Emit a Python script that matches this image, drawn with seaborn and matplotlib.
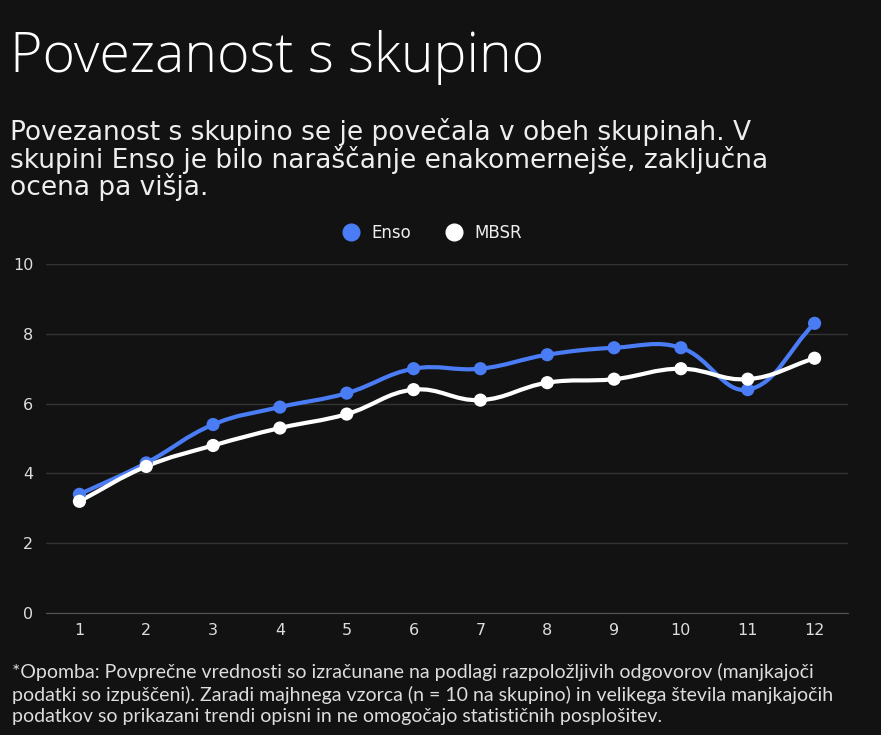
import numpy as np
import pandas as pd
import seaborn as sns
import matplotlib.pyplot as plt
from matplotlib.path import Path
from matplotlib.patches import PathPatch
from matplotlib.lines import Line2D

weeks = list(range(1, 13))
enso = [3.4, 4.3, 5.4, 5.9, 6.3, 7.0, 7.0, 7.4, 7.6, 7.6, 6.4, 8.3]
mbsr = [3.2, 4.2, 4.8, 5.3, 5.7, 6.4, 6.1, 6.6, 6.7, 7.0, 6.7, 7.3]

df = pd.DataFrame({"teden": weeks * 2,
                   "ocena": enso + mbsr,
                   "skupina": ["Enso"] * 12 + ["MBSR"] * 12})

BG = "#121212"
BLUE = "#4a7df5"
WHITE = "#ffffff"
palette = {"Enso": BLUE, "MBSR": WHITE}

sns.set_style("dark")
plt.rcParams["font.family"] = ["DejaVu Sans"]

fig = plt.figure(figsize=(8.81, 7.35), dpi=100, facecolor=BG)
ax = fig.add_axes([46 / 881, 1 - 613 / 735, (848 - 46) / 881, (613 - 264) / 735])
ax.set_facecolor(BG)

ax.set_xlim(0.5, 12.5)
ax.set_ylim(0, 10)


def smooth_path(xs, ys, t=0.4):
    # chart.js style bezier, distances in pixel-ish units
    sx, sy = 66.8, 34.9
    pts = np.column_stack([np.asarray(xs, float), np.asarray(ys, float)])
    n = len(pts)
    cps = []
    for i in range(n):
        prev = pts[i - 1] if i > 0 else pts[i]
        nxt = pts[i + 1] if i < n - 1 else pts[i]
        cur = pts[i]
        scale = np.array([sx, sy])
        d01 = np.linalg.norm((cur - prev) * scale)
        d12 = np.linalg.norm((nxt - cur) * scale)
        tot = d01 + d12
        s01 = d01 / tot if tot else 0
        s12 = d12 / tot if tot else 0
        cps.append((cur - t * s01 * (nxt - prev), cur + t * s12 * (nxt - prev)))
    verts = [pts[0]]
    codes = [Path.MOVETO]
    for i in range(n - 1):
        verts += [cps[i][1], cps[i + 1][0], pts[i + 1]]
        codes += [Path.CURVE4] * 3
    return Path(verts, codes)


for name, grp in df.groupby("skupina"):
    p = smooth_path(grp["teden"], grp["ocena"])
    ax.add_patch(PathPatch(p, facecolor="none", edgecolor=palette[name],
                           lw=3, capstyle="round", joinstyle="round", zorder=3))

sns.scatterplot(data=df, x="teden", y="ocena", hue="skupina", palette=palette,
                s=90, edgecolor="none", ax=ax, zorder=4, legend=False)

ax.set_yticks([0, 2, 4, 6, 8, 10])
ax.set_xticks(weeks)
ax.grid(axis="y", color="#333333", lw=1)
ax.grid(axis="x", visible=False)
for s in ["top", "right", "left"]:
    ax.spines[s].set_visible(False)
ax.spines["bottom"].set_color("#555555")
ax.tick_params(length=0, colors="#dddddd", labelsize=11.5)
ax.tick_params(axis="x", pad=7)
ax.tick_params(axis="y", pad=9)
ax.set_xlabel("")
ax.set_ylabel("")

handles = [Line2D([], [], marker="o", ls="none", color=BLUE, markersize=12, label="Enso"),
           Line2D([], [], marker="o", ls="none", color=WHITE, markersize=12, label="MBSR")]
leg = fig.legend(handles=handles, loc="center", bbox_to_anchor=(428 / 881, 1 - 233 / 735),
                 ncol=2, frameon=False, fontsize=12, handletextpad=0.2, columnspacing=1.6,
                 labelcolor="#eeeeee")

fig.text(10 / 881, 1 - 72 / 735, "Povezanost s skupino", color="white",
         fontsize=40, fontweight="light", family=["Open Sans", "DejaVu Sans"],
         va="baseline", ha="left")
fig.text(10 / 881, 1 - 118 / 735,
         "Povezanost s skupino se je povečala v obeh skupinah. V\n"
         "skupini Enso je bilo naraščanje enakomernejše, zaključna\n"
         "ocena pa višja.",
         color="#eeeeee", fontsize=19, va="top", ha="left", linespacing=0.98)
fig.text(12 / 881, 1 - 663 / 735,
         "*Opomba: Povprečne vrednosti so izračunane na podlagi razpoložljivih odgovorov (manjkajoči\n"
         "podatki so izpuščeni). Zaradi majhnega vzorca (n = 10 na skupino) in velikega števila manjkajočih\n"
         "podatkov so prikazani trendi opisni in ne omogočajo statističnih posplošitev.",
         color="#dddddd", fontsize=14, family=["Lato", "DejaVu Sans"],
         va="top", ha="left", linespacing=1.3)

fig.savefig("out.png", dpi=100, facecolor=BG)
